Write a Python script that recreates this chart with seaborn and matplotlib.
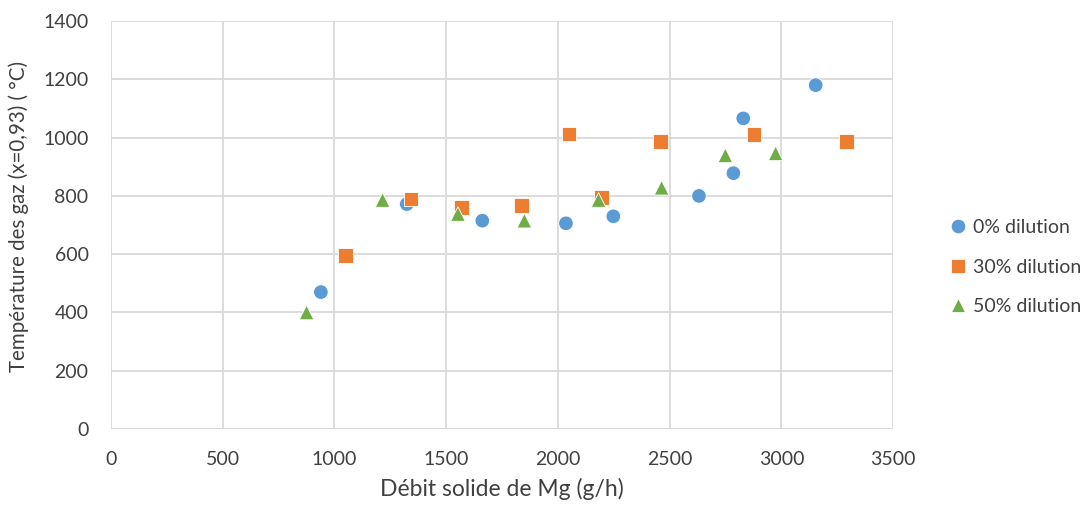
import numpy as np
import pandas as pd
import matplotlib
matplotlib.use("Agg")
import matplotlib.pyplot as plt
import seaborn as sns

# ---------------------------------------------------------------------------
# data
x_0 = [940, 1324, 1662, 2036, 2248, 2631, 2785, 2829, 3153]
y_0 = [470, 772, 715, 706, 730, 800, 878, 1066, 1180]

x_30 = [1051, 1343, 1570, 1838, 2050, 2196, 2458, 2877, 3292]
y_30 = [595, 789, 761, 768, 1012, 795, 986, 1010, 986]

x_50 = [876, 1216, 1553, 1850, 2182, 2464, 2749, 2974]
y_50 = [400, 786, 738, 715, 786, 828, 939, 946]

series = ['0% dilution', '30% dilution', '50% dilution']
colors = ['#5B9BD5', '#ED7D31', '#70AD47']
markers = ['o', 's', '^']

x_ticks = [0, 500, 1000, 1500, 2000, 2500, 3000, 3500]
y_ticks = [0, 200, 400, 600, 800, 1000, 1200, 1400]

# ---------------------------------------------------------------------------
df = pd.concat([
    pd.DataFrame({'debit': x_0, 'temp': y_0, 'serie': series[0]}),
    pd.DataFrame({'debit': x_30, 'temp': y_30, 'serie': series[1]}),
    pd.DataFrame({'debit': x_50, 'temp': y_50, 'serie': series[2]}),
])

sns.set_style("white")
plt.rcParams['font.family'] = ['Lato', 'DejaVu Sans']

fig = plt.figure(figsize=(10.92, 5.09), dpi=100)
ax = fig.add_axes([0.1014, 0.157, 0.7166, 0.8017])

sns.scatterplot(data=df, x='debit', y='temp', hue='serie', style='serie',
                palette=dict(zip(series, colors)),
                markers=dict(zip(series, markers)),
                s=110, edgecolor='white', linewidth=0.6, ax=ax, zorder=3)

ax.set_xlim(0, 3500)
ax.set_ylim(0, 1400)
ax.set_xticks(x_ticks)
ax.set_yticks(y_ticks)
ax.grid(True, color='#D9D9D9', linewidth=1.3)
for s in ax.spines.values():
    s.set_visible(False)
ax.tick_params(axis='both', length=5, width=1.3, color='#D9D9D9',
               labelsize=14, labelcolor='#404040', pad=11)
ax.axhline(0, color='#D9D9D9', linewidth=1.3, zorder=1)

ax.set_xlabel('Débit solide de Mg (g/h)', fontsize=16.5, color='#404040', labelpad=7)
ax.set_ylabel('Température des gaz (x=0,93) ( °C)', fontsize=14.8, color='#404040')
ax.yaxis.set_label_coords(-0.104, 0.522)

leg = ax.legend(loc='center left', bbox_to_anchor=(0.868, 0.4754),
                bbox_transform=fig.transFigure, frameon=False,
                fontsize=14, handletextpad=0.3, handlelength=1.0,
                labelspacing=1.15, borderpad=0, borderaxespad=0,
                labelcolor='#404040')

fig.savefig('out.png', dpi=100)
